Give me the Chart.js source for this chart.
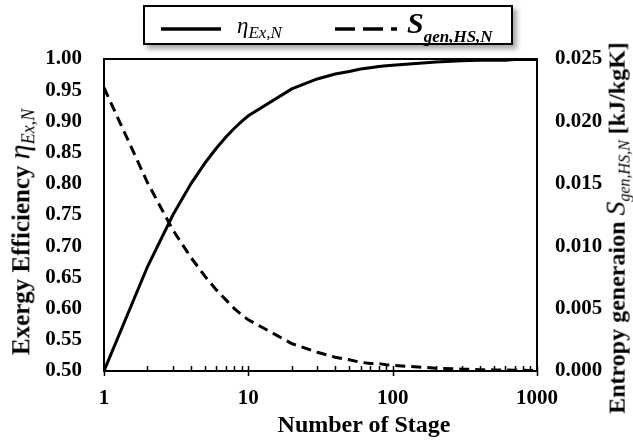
<!DOCTYPE html>
<html>
<head>
<meta charset="utf-8">
<script src="https://cdn.jsdelivr.net/npm/chart.js@4.4.0/dist/chart.umd.min.js"></script>
<style>
  html, body { margin: 0; padding: 0; background: #fff; }
  #wrap { position: relative; width: 633px; height: 448px; font-family: "Liberation Serif", "Times New Roman", serif; color: #000; }
  #chart { position: absolute; left: 0; top: 0; }
  .ttl { position: absolute; white-space: nowrap; font-weight: bold; transform: translate(-50%, -50%); line-height: 1; }
  .rot { transform: translate(-50%, -50%) rotate(-90deg); }
  .sym { font-style: italic; font-weight: normal; }
  .sub { font-style: italic; vertical-align: -0.3em; font-weight: normal; }
  #legend { position: absolute; left: 143px; top: 5px; width: 366px; height: 36px; border: 2px solid #000; background: #fff; box-shadow: 4px 4px 5px rgba(0,0,0,0.35); }
  #legend svg { position: absolute; }
  #legend .lab { position: absolute; white-space: nowrap; line-height: 1; }
</style>
</head>
<body>
<div id="wrap">
  <canvas id="chart" width="633" height="448"></canvas>
  <div id="legend">
    <svg style="left:16px; top:19px" width="62" height="6"><line x1="0" y1="3" x2="60" y2="3" stroke="#000" stroke-width="3.5"/></svg>
    <div class="lab" style="left:92px; top:7px; font-size:23px"><span class="sym">η</span><span class="sub" style="font-size:17px">Ex,N</span></div>
    <svg style="left:190px; top:19px" width="64" height="6"><line x1="0" y1="3" x2="62" y2="3" stroke="#000" stroke-width="3.5" stroke-dasharray="20,8"/></svg>
    <div class="lab" style="left:262px; top:1px; font-size:30px"><span style="font-style:italic;font-weight:bold">S</span><span class="sub" style="font-size:17px;font-weight:bold;vertical-align:-0.5em">gen,HS,N</span></div>
  </div>
  <div class="ttl rot" style="left:21px; top:232px; font-size:25px">Exergy Efficiency <span class="sym" style="font-size:30px">η</span><span class="sub" style="font-size:18px">Ex,N</span></div>
  <div class="ttl rot" style="left:617px; top:228px; font-size:24px">Entropy generaion <span class="sym" style="font-size:28px">S</span><span class="sub" style="font-size:16px">gen,HS,N</span> [kJ/kgK]</div>
  <div class="ttl" style="left:364px; top:424px; font-size:24px">Number of Stage</div>
</div>
<script>
// Stage count vs. exergy efficiency and entropy generation
const stages = [1, 2, 3, 4, 5, 6, 7, 8, 9, 10, 20, 30, 40, 50, 60, 70, 80, 90, 100, 200, 300, 400, 500, 600, 700, 800, 900, 1000];
const exergyEff = [0.500, 0.667, 0.750, 0.800, 0.833, 0.857, 0.875, 0.889, 0.900, 0.909, 0.952, 0.968, 0.976, 0.980, 0.984, 0.986, 0.988, 0.989, 0.990, 0.995, 0.997, 0.998, 0.998, 0.998, 0.999, 0.999, 0.999, 0.999];
const entropyGen = [0.0227, 0.0151, 0.0113, 0.0091, 0.0076, 0.0065, 0.0057, 0.0050, 0.0045, 0.0041, 0.0022, 0.0015, 0.0011, 0.0009, 0.0007, 0.0006, 0.0006, 0.0005, 0.00045, 0.00023, 0.00015, 0.00011, 0.00009, 0.00008, 0.00006, 0.00006, 0.00005, 0.00005];
const xTickLabels = [1, 10, 100, 1000];
const xMinorTicks = [2, 3, 4, 5, 6, 7, 8, 9, 20, 30, 40, 50, 60, 70, 80, 90, 200, 300, 400, 500, 600, 700, 800, 900];

const tickFont = { family: '"Liberation Serif", "Times New Roman", serif', size: 21, weight: 'bold' };

// Frame round the plot + inner minor ticks on the log axis
const framePlugin = {
  id: 'frame',
  afterDraw(chart) {
    const { ctx, chartArea: a, scales } = chart;
    ctx.save();
    ctx.strokeStyle = '#000';
    ctx.lineWidth = 2;
    ctx.strokeRect(a.left, a.top, a.right - a.left, a.bottom - a.top);
    ctx.lineWidth = 1.5;
    ctx.beginPath();
    xMinorTicks.forEach(v => {
      const px = Math.round(scales.x.getPixelForValue(v)) + 0.5;
      ctx.moveTo(px, a.bottom);
      ctx.lineTo(px, a.bottom - 5);
    });
    xTickLabels.forEach(v => {
      const px = Math.round(scales.x.getPixelForValue(v)) + 0.5;
      ctx.moveTo(px, a.bottom + 5);
      ctx.lineTo(px, a.bottom - 5);
    });
    ctx.stroke();
    ctx.restore();
  }
};

new Chart(document.getElementById('chart'), {
  type: 'line',
  data: {
    datasets: [
      { label: 'ηEx,N', data: stages.map((n, i) => ({ x: n, y: exergyEff[i] })), yAxisID: 'y', borderColor: '#000', borderWidth: 3, pointRadius: 0, tension: 0 },
      { label: 'Sgen,HS,N', data: stages.map((n, i) => ({ x: n, y: entropyGen[i] })), yAxisID: 'y1', borderColor: '#000', borderWidth: 3, borderDash: [10, 6], pointRadius: 0, tension: 0 }
    ]
  },
  options: {
    responsive: false,
    animation: false,
    layout: { padding: { top: 59, left: 0, right: 0, bottom: 0 } },
    plugins: { legend: { display: false }, tooltip: { enabled: false } },
    scales: {
      x: {
        type: 'logarithmic', min: 1, max: 1000,
        afterBuildTicks: s => { s.ticks = xTickLabels.map(v => ({ value: v })); },
        afterFit: s => { s.height = 77; },
        grid: { display: false, drawTicks: false },
        border: { display: false },
        ticks: { color: '#000', font: tickFont, padding: 15, maxRotation: 0, autoSkip: false, callback: v => String(v) }
      },
      y: {
        position: 'left', min: 0.5, max: 1.0,
        afterFit: s => { s.width = 104; },
        grid: { display: false, drawTicks: false },
        border: { display: false },
        ticks: { color: '#000', font: tickFont, padding: 22, stepSize: 0.05, callback: v => v.toFixed(2) }
      },
      y1: {
        position: 'right', min: 0, max: 0.025,
        afterFit: s => { s.width = 96; },
        grid: { display: false, drawTicks: false },
        border: { display: false },
        ticks: { color: '#000', font: tickFont, padding: 18, stepSize: 0.005, callback: v => v.toFixed(3) }
      }
    }
  },
  plugins: [framePlugin]
});
</script>
</body>
</html>
